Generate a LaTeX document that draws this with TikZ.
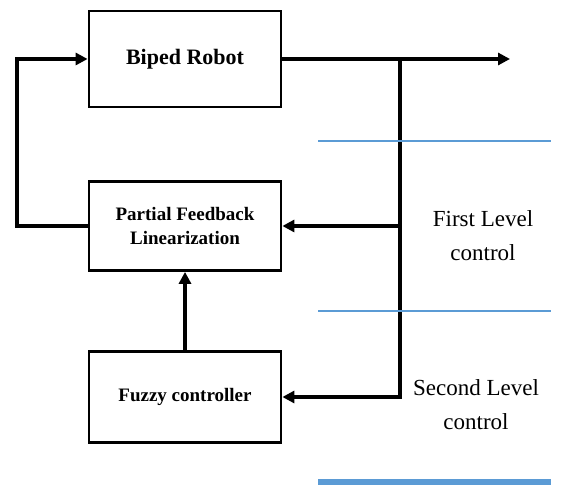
\documentclass[tikz,border=0pt]{standalone}
\usepackage{fontspec}
\setmainfont{Liberation Serif}
\usepackage{tikz}
\usetikzlibrary{positioning, arrows.meta}
\definecolor{levelblue}{RGB}{91, 155, 213}

\begin{document}
\begin{tikzpicture}[x=0.5pt, y=-0.5pt,
    block/.style={draw, line width=1.4pt, align=center, inner sep=0pt,
                  minimum width=96pt, font=\fontsize{9.5}{12}\selectfont\bfseries},
    sig/.style={line width=1.6pt, -{Triangle[length=6pt, width=6pt]}},
    levelline/.style={draw=levelblue, line width=1.4pt},
    levellabel/.style={align=center, font=\fontsize{11.5}{17}\selectfont}]
        \useasboundingbox (0,0) rectangle (561,485);
        \node[block, minimum height=48pt, font=\fontsize{11}{13}\selectfont\bfseries]
              (robot) at (185,59) {Biped Robot};
        \node[block, minimum height=44.5pt] (pfl) at (185,226)
              {Partial Feedback\\Linearization};
        \node[block, minimum height=45.5pt] (fuzzy) at (185,397)
              {Fuzzy controller};
        \coordinate (out) at (510,59);
        \coordinate (tap) at (400,59);
        \coordinate (loop) at (17,226);
        % outputs and feedback paths
        \draw[sig] (robot) -- (out);
        \draw[sig] (tap) |- (fuzzy);
        \draw[sig] (tap |- pfl) -- (pfl);
        \draw[sig] (pfl.west) -- (loop) |- (robot);
        \draw[sig] (fuzzy) -- (pfl);
        % level separators
        \draw[levelline] (318,141) -- (551,141);
        \draw[levelline] (318,311) -- (551,311);
        \draw[levelline, line width=2.8pt] (318,482) -- (551,482);
        \node[levellabel] (lvlone) at (483,236) {First Level\\control};
        \node[levellabel] (lvltwo) at (476,405) {Second Level\\control};
      \end{tikzpicture}
\end{document}
